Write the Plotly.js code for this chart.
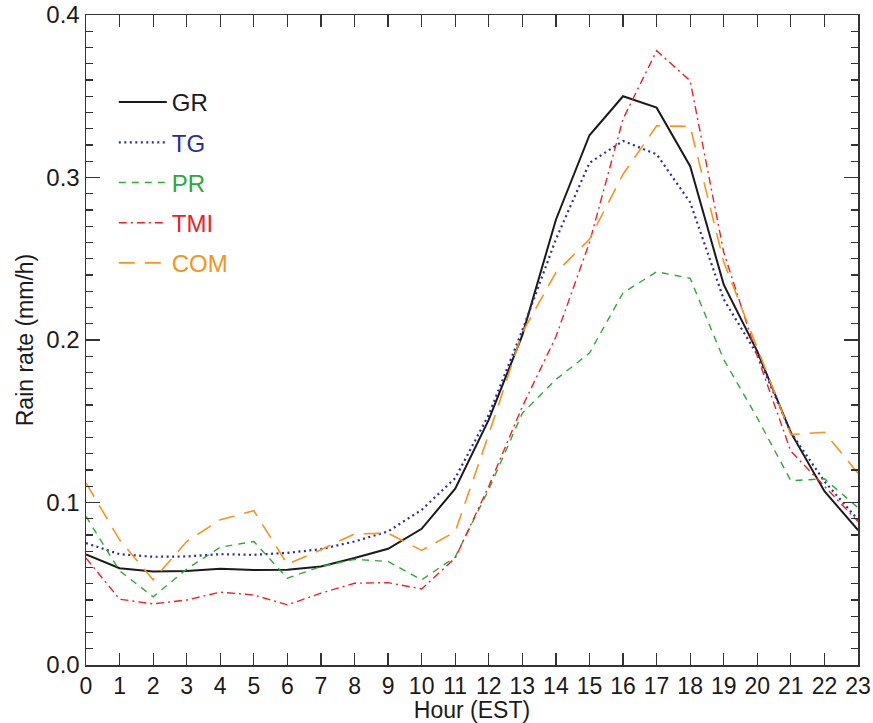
<!DOCTYPE html>
<html>
<head>
<meta charset="utf-8">
<script src="https://cdn.plot.ly/plotly-3.0.1.min.js"></script>
<style>html,body{margin:0;padding:0;background:#fff;}#chart{width:873px;height:723px;}</style>
</head>
<body>
<div id="chart"></div>
<script>
const hours = [0,1,2,3,4,5,6,7,8,9,10,11,12,13,14,15,16,17,18,19,20,21,22,23];
const GR  = [0.068,0.0596,0.0575,0.0579,0.0592,0.0584,0.0586,0.0606,0.0658,0.0715,0.0838,0.1085,0.151,0.203,0.274,0.326,0.350,0.343,0.307,0.234,0.193,0.143,0.107,0.083];
const TG  = [0.075,0.0682,0.0666,0.0668,0.0682,0.0678,0.069,0.0713,0.076,0.0822,0.0955,0.115,0.154,0.206,0.262,0.309,0.3225,0.3143,0.2847,0.225,0.191,0.143,0.113,0.0894];
const PR  = [0.0914,0.058,0.042,0.059,0.0725,0.076,0.0534,0.0606,0.065,0.0637,0.0524,0.0664,0.108,0.155,0.1757,0.192,0.229,0.242,0.238,0.188,0.152,0.1134,0.1146,0.0968];
const TMI = [0.0658,0.0405,0.0376,0.040,0.0448,0.0431,0.037,0.0442,0.0503,0.0507,0.0468,0.0658,0.11,0.159,0.202,0.26,0.336,0.378,0.3595,0.254,0.19,0.1315,0.11,0.0883];
const COM = [0.112,0.077,0.0524,0.076,0.0894,0.0949,0.062,0.0709,0.0807,0.0811,0.0705,0.082,0.142,0.2046,0.2416,0.262,0.302,0.3318,0.3314,0.248,0.195,0.1418,0.1432,0.118];
const names = ['GR','TG','PR','TMI','COM'];
const colors = ['#1a1a1a','#2b2e96','#2ea836','#ec2227','#f7941d'];
const dashes = ['solid','2px,3.5px','7px,6px','8px,4px,2px,4px','16px,10px'];
const widths = [2,2.2,1.4,1.4,1.6];
const series = [GR,TG,PR,TMI,COM];

const traces = series.map((s,i)=>({
  x: hours, y: s, type:'scatter', mode:'lines',
  name: '<span style="color:'+colors[i]+'">'+names[i]+'</span>',
  legendgroup: names[i],
  line: {color: colors[i], width: widths[i], dash: dashes[i]}
}));

const fam = '"Liberation Sans", Arial, Helvetica, sans-serif';
const layout = {
  width:873, height:723,
  margin:{l:86, r:15, t:15, b:58},
  paper_bgcolor:'#fff', plot_bgcolor:'#fff',
  font: {family:fam, size:23, color:'#1a1a1a'},
  showlegend:true,
  legend:{x:0.036, y:0.9, xanchor:'left', yanchor:'top', bgcolor:'rgba(0,0,0,0)', borderwidth:0,
          font:{family:fam, size:24}, tracegroupgap:6, itemwidth:48},
  xaxis:{range:[0,23], tickmode:'array', tickvals:hours, ticktext:hours.map(String),
         ticks:'inside', ticklen:12, tickwidth:1.2, tickcolor:'#333',
         showline:true, linecolor:'#333', linewidth:1.5, mirror:'ticks',
         showgrid:false, zeroline:false,
         title:{text:'Hour (EST)', font:{size:23}, standoff:0},
         tickfont:{size:23}},
  yaxis:{range:[0,0.4], tickmode:'linear', tick0:0, dtick:0.1, tickformat:'.1f',
         ticks:'inside', ticklen:14, tickwidth:1.2, tickcolor:'#333',
         minor:{dtick:0.01, ticks:'inside', ticklen:7, tickwidth:1.2, tickcolor:'#333', showgrid:false},
         showline:true, linecolor:'#333', linewidth:1.5, mirror:'ticks',
         showgrid:false, zeroline:false,
         title:{text:'Rain rate (mm/h)', font:{size:23}, standoff:6},
         tickfont:{size:24}}
};
Plotly.newPlot('chart', traces, layout, {displayModeBar:false, staticPlot:true});
</script>
</body>
</html>
